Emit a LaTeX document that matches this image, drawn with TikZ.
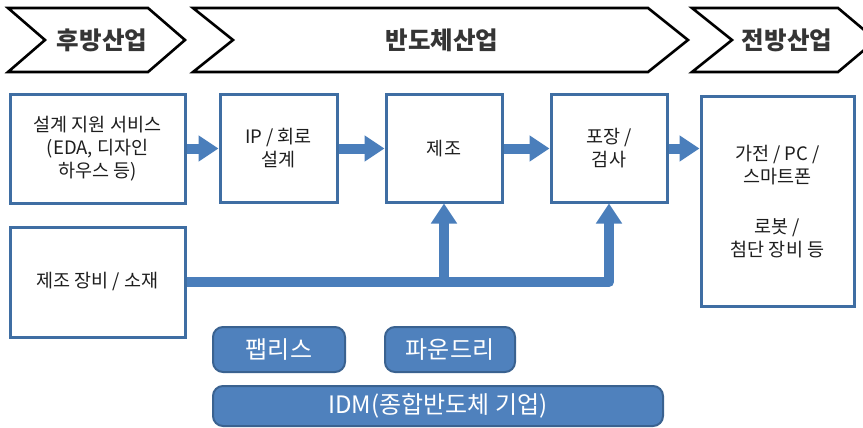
\documentclass[tikz,border=0pt]{standalone}
\usepackage{fontspec}
\setmainfont{Noto Sans CJK KR}
\usetikzlibrary{arrows.meta}
\definecolor{bxblue}{HTML}{3F6EA3}
\definecolor{arblue}{HTML}{4A7EBB}
\definecolor{pillfill}{HTML}{4F81BD}
\definecolor{pillline}{HTML}{3A6290}
\definecolor{txt}{HTML}{1E1E1E}
\tikzset{
  chev/.style={draw=black, line width=2.6pt, fill=white, line join=miter},
  chevtxt/.style={font=\fontsize{24.5}{28}\selectfont\bfseries, text=txt!90!white, inner sep=0pt},
  stagebox/.style={draw=bxblue, line width=3pt, fill=white, inner sep=0pt, align=center,
    font=\fontsize{18.5}{23}\selectfont, text=txt},
  pill/.style={draw=pillline, line width=2pt, fill=pillfill, rounded corners=10pt, inner sep=0pt,
    text=white, font=\fontsize{24}{28}\selectfont},
  flow/.style={draw=arblue, line width=10pt, -{Triangle[length=20pt,width=25pt]}},
  flowline/.style={draw=arblue, line width=10pt, line join=round}
}
\begin{document}
\begin{tikzpicture}[x=1pt,y=-1pt]
\useasboundingbox (0,0) rectangle (863,428);
% chevrons
\draw[chev] (8,8) -- (148,8) -- (185,40) -- (148,72) -- (8,72) -- (45,40) -- cycle;
\draw[chev] (193,8) -- (648,8) -- (688,40) -- (648,72) -- (193,72) -- (233,40) -- cycle;
\draw[chev] (692,8) -- (838,8) -- (876,40) -- (838,72) -- (692,72) -- (732,40) -- cycle;
\node[chevtxt] (h1) at (102,40) {후방산업};
\node[chevtxt] (h2) at (442,40) {반도체산업};
\node[chevtxt] (h3) at (787,40) {전방산업};
% stage boxes
\node[stagebox, minimum width=175pt, minimum height=108pt] (A) at (97.5,149) {설계 지원 서비스\\(EDA, 디자인\\하우스 등)};
\node[stagebox, minimum width=117pt, minimum height=107pt] (B) at (278.5,148.5) {IP / 회로\\설계};
\node[stagebox, minimum width=116pt, minimum height=107pt] (C) at (444,148.5) {제조};
\node[stagebox, minimum width=116pt, minimum height=107pt] (D) at (609,148.5) {포장 /\\검사};
\node[stagebox, minimum width=153pt, minimum height=209pt] (E) at (777.5,201.5) {가전 / PC /\\스마트폰\\[27pt]로봇 /\\첨단 장비 등};
\node[stagebox, minimum width=175pt, minimum height=110pt] (F) at (97.5,282) {제조 장비 / 소재};
% flow arrows
\draw[flow] (A.east |- B.west) -- (B.west);
\draw[flow] (B.east) -- (C.west);
\draw[flow] (C.east) -- (D.west);
\draw[flow] (D.east) -- (D.east -| E.west);
\coordinate (j1) at (F.east -| C.south);
\coordinate (j2) at (F.east -| D.south);
\draw[flowline] (F.east) -- (j2);
\draw[flow, line join=round] (j1) -- (C.south);
\draw[flow, line join=round] ([xshift=-4pt]F.east -| D.south) -- (j2) -- (D.south);
% company types
\node[pill, minimum width=132pt, minimum height=45pt] (P1) at (279,349.5) {팹리스};
\node[pill, minimum width=130pt, minimum height=45pt] (P2) at (450,349.5) {파운드리};
\node[pill, minimum width=450pt, minimum height=40pt] (P3) at (438,406) {IDM(종합반도체 기업)};
\end{tikzpicture}
\end{document}
